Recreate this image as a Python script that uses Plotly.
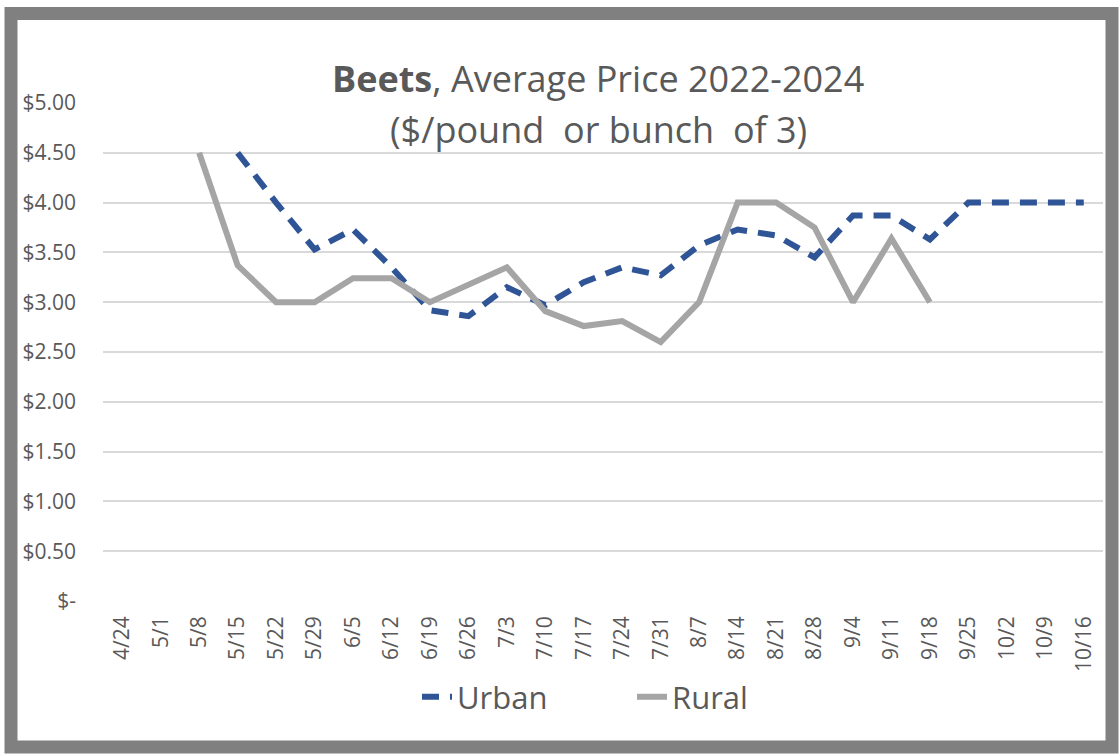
import plotly.graph_objects as go

weeks = ["4/24", "5/1", "5/8", "5/15", "5/22", "5/29", "6/5", "6/12", "6/19", "6/26",
         "7/3", "7/10", "7/17", "7/24", "7/31", "8/7", "8/14", "8/21", "8/28", "9/4",
         "9/11", "9/18", "9/25", "10/2", "10/9", "10/16"]

urban = [None, None, None, 4.50, 4.00, 3.53, 3.73, 3.35, 2.92, 2.86,
         3.15, 2.97, 3.20, 3.35, 3.27, 3.57, 3.73, 3.67, 3.45, 3.87,
         3.87, 3.63, 4.00, 4.00, 4.00, 4.00]

rural = [None, None, 4.50, 3.37, 3.00, 3.00, 3.24, 3.24, 3.00, 3.17,
         3.35, 2.91, 2.76, 2.81, 2.60, 3.00, 4.00, 4.00, 3.75, 3.00,
         3.64, 3.00, None, None, None, None]

y_ticks = [0, 0.5, 1.0, 1.5, 2.0, 2.5, 3.0, 3.5, 4.0, 4.5, 5.0]
y_labels = ["$-", "$0.50", "$1.00", "$1.50", "$2.00", "$2.50", "$3.00", "$3.50",
            "$4.00", "$4.50", "$5.00"]

FONT = "'Open Sans', Lato, sans-serif"
TXT = "#595959"

fig = go.Figure()
fig.add_trace(go.Scatter(x=weeks, y=urban, name="Urban", mode="lines",
                         line=dict(color="#2F5597", width=6, dash="17px,11px")))
fig.add_trace(go.Scatter(x=weeks, y=rural, name="Rural", mode="lines",
                         line=dict(color="#A5A5A5", width=6)))

fig.update_layout(
    width=1119, height=754,
    margin=dict(l=103, r=16, t=103, b=153),
    paper_bgcolor="white", plot_bgcolor="white",
    font=dict(family=FONT, color=TXT),
    showlegend=True,
    legend=dict(orientation="h", x=0.314, xanchor="left", y=-0.193, yanchor="middle",
                font=dict(size=31, color=TXT), entrywidth=170, entrywidthmode="pixels"),
    xaxis=dict(type="category", range=[-0.5, 25.5], tickangle=-90,
               tickfont=dict(size=21, color=TXT), showgrid=False,
               showline=False, zeroline=False, ticks="", ticklabelstandoff=10),
    yaxis=dict(range=[0, 5], tickvals=y_ticks, ticktext=y_labels,
               tickfont=dict(size=21, color=TXT), showgrid=True,
               gridcolor="#D9D9D9", gridwidth=2, zeroline=False, showline=False,
               ticklabelstandoff=26),
    annotations=[
        dict(text="<b>Beets</b>, Average Price 2022-2024", xref="paper", yref="paper",
             x=0.495, y=1.05, xanchor="center", yanchor="middle", showarrow=False,
             font=dict(size=36, color=TXT, family=FONT)),
        dict(text="($/pound  or bunch  of 3)", xref="paper", yref="paper",
             x=0.495, y=0.946, xanchor="center", yanchor="middle", showarrow=False,
             font=dict(size=36, color=TXT, family=FONT)),
    ],
    shapes=[
        dict(type="rect", xref="paper", yref="paper", x0=-0.092, x1=1.009,
             y0=-0.2932, y1=1.1797, line=dict(color="#808080", width=13),
             fillcolor="rgba(0,0,0,0)", layer="above"),
    ],
)

fig.write_html("out.html", config={"displayModeBar": False},
               post_script="document.body.style.margin='0px';document.body.style.overflow='hidden';")
